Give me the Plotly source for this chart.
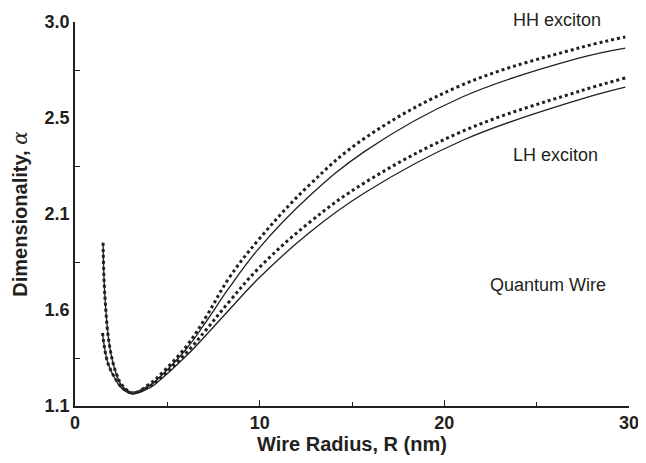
import plotly.graph_objects as go

# Wire radius R (nm)
R_hh = [1.52, 1.62, 1.88, 2.23, 2.58, 3.14, 4.05, 4.56, 6.07, 7.09, 8.34, 9.96, 12.65, 15.69, 21.0, 27.23, 29.8]
hh_dotted = [1.908, 1.641, 1.393, 1.263, 1.200, 1.165, 1.210, 1.250, 1.400, 1.540, 1.733, 1.925, 2.190, 2.425, 2.690, 2.870, 2.926]
hh_solid = [1.908, 1.641, 1.393, 1.260, 1.195, 1.160, 1.200, 1.240, 1.387, 1.516, 1.684, 1.880, 2.135, 2.360, 2.630, 2.820, 2.871]

R_lh = [1.49, 1.78, 2.23, 2.58, 3.14, 4.05, 4.56, 6.07, 7.09, 8.34, 9.96, 12.65, 15.69, 21.0, 27.23, 29.8]
lh_dotted = [1.461, 1.313, 1.229, 1.188, 1.165, 1.200, 1.235, 1.367, 1.476, 1.615, 1.783, 2.005, 2.205, 2.460, 2.655, 2.723]
lh_solid = [1.461, 1.313, 1.225, 1.183, 1.160, 1.190, 1.225, 1.352, 1.450, 1.575, 1.733, 1.955, 2.155, 2.415, 2.614, 2.678]

y_tickvals = [1.1, 1.575, 2.05, 2.525, 3.0]
y_ticktext = ["1.1", "1.6", "2.1", "2.5", "3.0"]
y_minorvals = [1.3375, 1.8125, 2.2875, 2.7625]
x_tickvals = [0, 10, 20, 30]
x_minorvals = [5, 15, 25]

ink = "#231f20"
FAM = "Liberation Sans, Arial, sans-serif"
fig = go.Figure()
for xs, ys in [(R_hh, hh_solid), (R_lh, lh_solid)]:
    fig.add_trace(go.Scatter(x=xs, y=ys, mode="lines",
                             line=dict(color=ink, width=1.3, shape="spline", smoothing=1.1),
                             showlegend=False, hoverinfo="skip"))
for xs, ys in [(R_hh, hh_dotted), (R_lh, lh_dotted)]:
    fig.add_trace(go.Scatter(x=xs, y=ys, mode="lines",
                             line=dict(color=ink, width=3, dash="dot", shape="spline", smoothing=1.1),
                             showlegend=False, hoverinfo="skip"))

fontb = dict(family=FAM, size=18, color=ink, weight="bold")
titlef = dict(family=FAM, size=20, color=ink, weight="bold")
fig.update_layout(
    width=638, height=447,
    margin=dict(l=67, r=17, t=14, b=49),
    plot_bgcolor="white", paper_bgcolor="white",
    font=dict(family=FAM, color=ink),
    xaxis=dict(range=[0, 30], tickmode="array", tickvals=x_tickvals, automargin=False,
               ticks="inside", ticklen=6, tickwidth=1.2, tickcolor=ink,
               minor=dict(tickmode="array", tickvals=x_minorvals, ticks="inside", ticklen=4, tickcolor=ink),
               showline=True, linecolor=ink, linewidth=1.5, showgrid=False, zeroline=False,
               tickfont=fontb, ticklabeloverflow="allow",
               title=dict(text="Wire Radius, R (nm)", font=titlef, standoff=2)),
    yaxis=dict(range=[1.1, 3.0], tickmode="array", tickvals=y_tickvals, ticktext=y_ticktext, automargin=False,
               ticks="inside", ticklen=0, tickwidth=1.2, tickcolor=ink,
               minor=dict(tickmode="array", tickvals=y_minorvals, ticks="inside", ticklen=5, tickcolor=ink),
               showline=True, linecolor=ink, linewidth=1.5, showgrid=False, zeroline=False,
               tickfont=fontb, ticklabeloverflow="allow",
               title=dict(text="Dimensionality, <span style='font-family:DejaVu Serif;font-style:italic;font-weight:normal'>α</span>",
                          font=titlef, standoff=12)),
)
ann_font = dict(family=FAM, size=18, color=ink)
fig.add_annotation(x=26.1, y=1.005, text="HH exciton", showarrow=False, font=ann_font,
                   xref="x", yref="paper", yanchor="middle")
fig.add_annotation(x=26.0, y=2.342, text="LH exciton", showarrow=False, font=ann_font,
                   xref="x", yref="y", yanchor="middle")
fig.add_annotation(x=25.6, y=1.699, text="Quantum Wire", showarrow=False, font=ann_font,
                   xref="x", yref="y", yanchor="middle")

fig.write_html("out.html")
